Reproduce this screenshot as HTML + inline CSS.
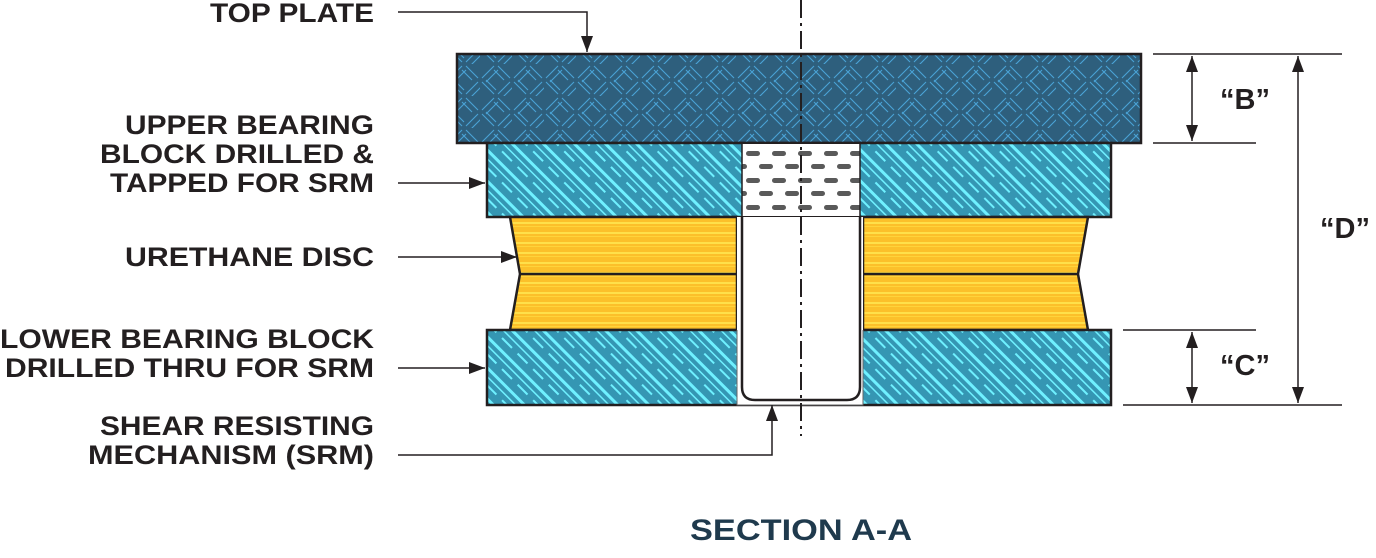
<!DOCTYPE html>
<html><head><style>html,body{margin:0;padding:0;background:#fff;}svg{display:block}</style></head>
<body>
<svg width="1376" height="558" viewBox="0 0 1376 558" xmlns="http://www.w3.org/2000/svg">
<defs>
<pattern id="weave" width="32" height="32" patternUnits="userSpaceOnUse">
<rect width="32" height="32" fill="#2e5f7d"/>
<path d="M2 14 L14 2 M6 18 L18 6 M18 30 L30 18 M22 34 L34 22 M18 2 L30 14 M14 6 L24 16 M2 18 L14 30 M6 16 L16 26" stroke="#4aa3d6" stroke-width="1.1"/>
</pattern>
<pattern id="diag" width="22" height="22" patternUnits="userSpaceOnUse" patternTransform="rotate(45)">
<rect width="22" height="22" fill="#3596b3"/>
<rect x="0" y="2" width="22" height="3" fill="#6ff0ff"/>
<rect x="0" y="9" width="22" height="1.5" fill="#6ff0ff"/>
<rect x="0" y="15" width="14" height="2" fill="#6ff0ff"/>
</pattern>
<pattern id="ure" width="40" height="10" patternUnits="userSpaceOnUse">
<rect width="40" height="10" fill="#fcc02a"/>
<rect y="2" width="40" height="2" fill="#ffe04a"/>
<rect y="6" width="40" height="1" fill="#ffd43a"/>
</pattern>
<pattern id="dots" width="26" height="27" patternUnits="userSpaceOnUse" x="742" y="148">
<rect width="26" height="27" fill="#fff"/>
<rect x="4" y="3" width="14" height="5" rx="2.5" fill="#5a5a5a"/>
<rect x="-9" y="16" width="14" height="5" rx="2.5" fill="#5a5a5a"/>
<rect x="17" y="16" width="14" height="5" rx="2.5" fill="#5a5a5a"/>
</pattern>
<marker id="ar" markerWidth="16" markerHeight="12" refX="16" refY="6" orient="auto" markerUnits="userSpaceOnUse"><path d="M0 0 L16 6 L0 12 Z" fill="#231f20"/></marker>
<marker id="ar2" markerWidth="16" markerHeight="12" refX="16" refY="6" orient="auto-start-reverse" markerUnits="userSpaceOnUse"><path d="M0 0 L16 6 L0 12 Z" fill="#231f20"/></marker>
</defs>

<rect x="457" y="54" width="684" height="89" fill="url(#weave)" stroke="#231f20" stroke-width="2.5"/>
<rect x="487" y="143" width="624" height="74" fill="url(#diag)" stroke="#231f20" stroke-width="2.5"/>
<rect x="742" y="144" width="118" height="72" fill="url(#dots)"/>
<path d="M742 144 V216 M860 144 V216" stroke="#231f20" stroke-width="1.5"/>
<path d="M510 217 L737 217 L737 330 L510 330 L520 274 Z" fill="url(#ure)" stroke="#231f20" stroke-width="2.5"/>
<path d="M863 217 L1088 217 L1078 274 L1088 330 L863 330 Z" fill="url(#ure)" stroke="#231f20" stroke-width="2.5"/>
<path d="M520 274 H737 M863 274 H1078" stroke="#231f20" stroke-width="2.5"/>
<rect x="487" y="330" width="624" height="75" fill="url(#diag)" stroke="#231f20" stroke-width="2.5"/>
<rect x="737" y="217" width="126" height="188" fill="#fff"/>
<path d="M737 330 V405 H863 V330" fill="none" stroke="#666" stroke-width="1"/>
<path d="M742 217 V387 Q742 400 755 400 H847 Q860 400 860 387 V217" fill="none" stroke="#231f20" stroke-width="2.5"/>
<path d="M801 0 V436" stroke="#231f20" stroke-width="2" stroke-dasharray="18,5,3,5"/>

<g stroke="#231f20" stroke-width="1.5" fill="none">
<path d="M398 12 H587 V52" marker-end="url(#ar)"/>
<path d="M398 183 H485" marker-end="url(#ar)"/>
<path d="M398 257 H517" marker-end="url(#ar)"/>
<path d="M398 368 H485" marker-end="url(#ar)"/>
<path d="M398 455 H772 V405" marker-end="url(#ar)"/>
<path d="M1153 54 H1342 M1153 143 H1256 M1123 330 H1256 M1123 405 H1342"/>
<path d="M1192 56 V141" marker-start="url(#ar2)" marker-end="url(#ar2)"/>
<path d="M1192 332 V403" marker-start="url(#ar2)" marker-end="url(#ar2)"/>
<path d="M1298 56 V403" marker-start="url(#ar2)" marker-end="url(#ar2)"/>
</g>

<g font-family="Liberation Sans, sans-serif" font-weight="bold" font-size="27" fill="#231f20" text-anchor="end">
<text x="374" y="22" textLength="164" lengthAdjust="spacingAndGlyphs">TOP PLATE</text>
<text x="374" y="134" textLength="249" lengthAdjust="spacingAndGlyphs">UPPER BEARING</text>
<text x="374" y="163" textLength="274" lengthAdjust="spacingAndGlyphs">BLOCK DRILLED &amp;</text>
<text x="374" y="192" textLength="264" lengthAdjust="spacingAndGlyphs">TAPPED FOR SRM</text>
<text x="374" y="266" textLength="249" lengthAdjust="spacingAndGlyphs">URETHANE DISC</text>
<text x="374" y="348" textLength="374" lengthAdjust="spacingAndGlyphs">LOWER BEARING BLOCK</text>
<text x="374" y="377" textLength="369" lengthAdjust="spacingAndGlyphs">DRILLED THRU FOR SRM</text>
<text x="374" y="435" textLength="274" lengthAdjust="spacingAndGlyphs">SHEAR RESISTING</text>
<text x="374" y="464" textLength="286" lengthAdjust="spacingAndGlyphs">MECHANISM (SRM)</text>
</g>
<g font-family="Liberation Sans, sans-serif" font-weight="bold" font-size="29" fill="#231f20" text-anchor="middle">
<text x="1245" y="109">“B”</text>
<text x="1345" y="238">“D”</text>
<text x="1245" y="375">“C”</text>
</g>
<text x="801" y="540" font-family="Liberation Sans, sans-serif" font-weight="bold" font-size="30" fill="#1f3a4d" text-anchor="middle" textLength="222" lengthAdjust="spacingAndGlyphs">SECTION A-A</text>
</svg>
</body></html>
